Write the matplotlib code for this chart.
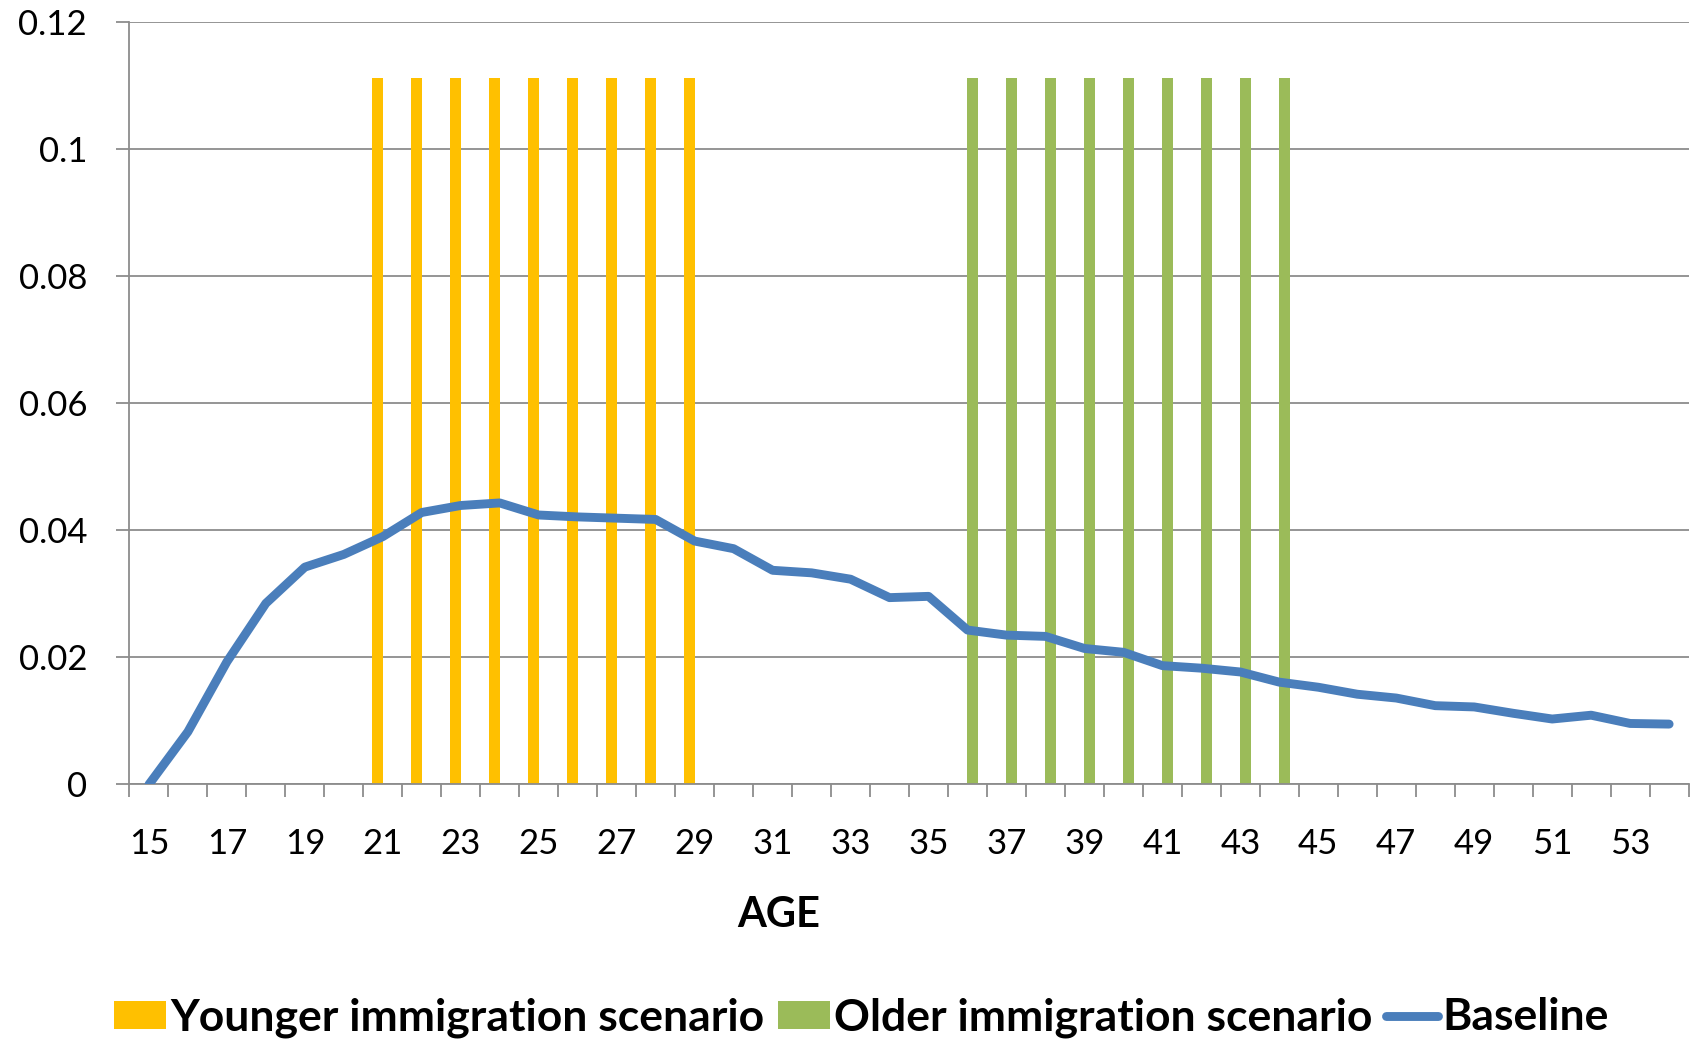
import matplotlib
matplotlib.use("Agg")
import matplotlib.pyplot as plt
import numpy as np
from matplotlib.lines import Line2D
from matplotlib.patches import Patch

plt.rcParams["font.family"] = ["Lato", "DejaVu Sans"]

AGES = list(range(15, 55))

YOUNGER = [0, 0, 0, 0, 0, 0,
           0.1111, 0.1111, 0.1111, 0.1111, 0.1111, 0.1111, 0.1111, 0.1111, 0.1111,
           0, 0, 0, 0, 0, 0,
           0, 0, 0, 0, 0, 0, 0, 0, 0,
           0, 0, 0, 0, 0, 0, 0, 0, 0, 0]

OLDER = [0, 0, 0, 0, 0, 0,
         0, 0, 0, 0, 0, 0, 0, 0, 0,
         0, 0, 0, 0, 0, 0,
         0.1111, 0.1111, 0.1111, 0.1111, 0.1111, 0.1111, 0.1111, 0.1111, 0.1111,
         0, 0, 0, 0, 0, 0, 0, 0, 0, 0]

BASELINE = [0.0000, 0.0083, 0.0193, 0.0285, 0.0342, 0.0362, 0.0390, 0.0428,
            0.0439, 0.0443, 0.0424, 0.0421, 0.0419, 0.0417, 0.0383, 0.0371,
            0.0337, 0.0333, 0.0323, 0.0294, 0.0296, 0.0243, 0.0235, 0.0233,
            0.0214, 0.0208, 0.0187, 0.0183, 0.0177, 0.0161, 0.0153, 0.0142,
            0.0136, 0.0124, 0.0122, 0.0112, 0.0103, 0.0109, 0.0096, 0.0095]

Y_TICKS = [0, 0.02, 0.04, 0.06, 0.08, 0.1, 0.12]
Y_TICK_LABELS = ["0", "0.02", "0.04", "0.06", "0.08", "0.1", "0.12"]

YELLOW = "#FFC000"
GREEN = "#9BBB59"
BLUE = "#4A7EBB"
GRID = "#8C8C8C"
LINE_W = 6.4


def main() -> None:
    fig = plt.figure(figsize=(16.92, 10.40), dpi=100)
    ax = fig.add_axes([0.0765, 0.2457, 0.9215, 0.7333])

    x = np.arange(len(AGES))
    w = 0.277
    ax.bar(x - w / 2, YOUNGER, width=w, color=YELLOW, zorder=2)
    ax.bar(x + w / 2, OLDER, width=w, color=GREEN, zorder=2)
    ax.plot(x, BASELINE, color=BLUE, linewidth=LINE_W, solid_joinstyle="round",
            solid_capstyle="round", zorder=3)

    ax.set_xlim(-0.5, len(AGES) - 0.5)
    ax.set_ylim(0, 0.12)

    ax.set_yticks(Y_TICKS)
    ax.set_yticklabels(Y_TICK_LABELS)
    ax.yaxis.grid(True, color=GRID, linewidth=1.3, zorder=0)
    ax.set_axisbelow(True)
    ax.tick_params(axis="y", length=9.5, width=1.3, color=GRID, pad=21,
                   labelsize=25)

    ax.set_xticks(x[::2])
    ax.set_xticklabels([str(a) for a in AGES[::2]])
    ax.set_xticks(np.arange(len(AGES) + 1) - 0.5, minor=True)
    ax.tick_params(axis="x", which="major", length=0, pad=31, labelsize=25)
    ax.tick_params(axis="x", which="minor", length=9.5, width=1.3, color=GRID)

    for side in ("top", "right"):
        ax.spines[side].set_visible(False)
    for side in ("left", "bottom"):
        ax.spines[side].set_color(GRID)
        ax.spines[side].set_linewidth(1.3)

    ax.set_xlabel("AGE", fontsize=30, fontweight="bold")
    ax.xaxis.set_label_coords(0.4165, -0.171)
    ax.xaxis.label.set_va("center")

    handles = [
        Patch(facecolor=YELLOW, edgecolor="none"),
        Patch(facecolor=GREEN, edgecolor="none"),
        Line2D([0], [0], color=BLUE, linewidth=LINE_W, solid_capstyle="round"),
    ]
    labels = ["Younger immigration scenario", "Older immigration scenario", "Baseline"]
    fig.legend(handles, labels, loc="center", bbox_to_anchor=(0.509, 0.0215),
               ncol=3, frameon=False,
               prop={"weight": "bold", "size": 32},
               handlelength=1.17, handleheight=0.6, handletextpad=0.1,
               columnspacing=0.3, borderaxespad=0)

    fig.savefig("out.png", dpi=100)
    plt.close(fig)


if __name__ == "__main__":
    main()
